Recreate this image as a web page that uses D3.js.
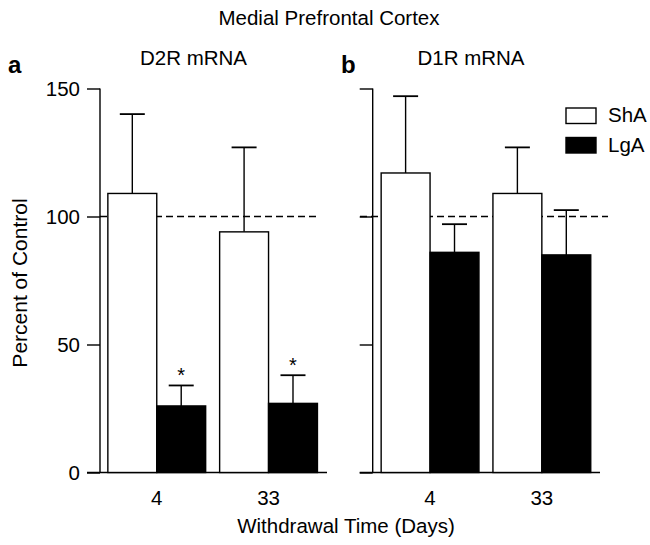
<!DOCTYPE html>
<html>
<head>
<meta charset="utf-8">
<script src="https://cdn.jsdelivr.net/npm/d3@7"></script>
<style>
  body { margin: 0; background: #fff; }
  svg text { font-family: "Liberation Sans", Arial, sans-serif; fill: #000; }
</style>
</head>
<body>
<div id="chart"></div>
<script>
var w = 650,
    h = 545;

// data
var days = ["4", "33"];
var groups = ["ShA", "LgA"];
var d2rMean = [[109, 26], [94, 27]];   // [day][group]
var d2rErr  = [[140, 34], [127, 38]];
var d1rMean = [[117, 86], [109, 85]];
var d1rErr  = [[147, 97], [127, 102.5]];
var d2rStars = [[false, true], [false, true]];
var d1rStars = [[false, false], [false, false]];
var yTicks = [0, 50, 100, 150];

var svg = d3.select("#chart")
    .append("svg")
    .attr("width", w)
    .attr("height", h);

var y = d3.scaleLinear().domain([0, 150]).range([472.5, 88.5]);

svg.append("text")
   .attr("x", 329).attr("y", 25)
   .attr("text-anchor", "middle")
   .style("font-size", "20.5px")
   .text("Medial Prefrontal Cortex");

svg.append("text")
   .attr("x", 346).attr("y", 533)
   .attr("text-anchor", "middle")
   .style("font-size", "20.5px")
   .text("Withdrawal Time (Days)");

svg.append("text")
   .attr("transform", "translate(27,283) rotate(-90)")
   .attr("text-anchor", "middle")
   .style("font-size", "21px")
   .text("Percent of Control");

function panel(opts) {
    var g = svg.append("g");
    var x0 = d3.scaleBand().domain(days)
        .range([opts.left, opts.right]).paddingInner(0.125).paddingOuter(0.03);
    var x1 = d3.scaleBand().domain(groups).range([0, x0.bandwidth()]);

    // y axis
    var ax = d3.axisLeft(y).tickValues(yTicks).tickSize(13)
        .tickFormat(opts.labels ? d3.format("d") : "");
    var ag = g.append("g").attr("transform", "translate(" + opts.axisX + ",0)").call(ax);
    ag.select(".domain").remove();
    ag.append("line").attr("x1", 0).attr("x2", 0)
      .attr("y1", y(0)).attr("y2", y(150)).attr("stroke", "#000").attr("stroke-width", 1.4);
    ag.selectAll(".tick line").attr("stroke-width", 1.4);
    ag.selectAll(".tick text").style("font-size", "20.5px").attr("x", -20).attr("dy", "0.36em")
      .style("font-family", "Liberation Sans, Arial, sans-serif");

    // baseline
    g.append("line")
     .attr("x1", opts.axisX - 13).attr("x2", opts.baseEnd)
     .attr("y1", y(0)).attr("y2", y(0))
     .attr("stroke", "#000").attr("stroke-width", 1.4);

    // dashed 100% reference
    g.append("line")
     .attr("x1", opts.dashStart).attr("x2", opts.dashEnd)
     .attr("y1", y(100)).attr("y2", y(100))
     .attr("stroke", "#000").attr("stroke-width", 1.3)
     .attr("stroke-dasharray", "7,4");

    var rows = [];
    days.forEach(function(d, i) {
        groups.forEach(function(gr, j) {
            rows.push({day: d, group: gr, mean: opts.mean[i][j], err: opts.err[i][j], star: opts.stars[i][j]});
        });
    });

    var cx = function(d) { return x0(d.day) + x1(d.group) + x1.bandwidth() / 2; };

    // error bars
    g.selectAll(".eb").data(rows).enter().append("line")
     .attr("x1", cx).attr("x2", cx)
     .attr("y1", function(d) { return y(d.mean); })
     .attr("y2", function(d) { return y(d.err); })
     .attr("stroke", "#000").attr("stroke-width", 1.4);
    g.selectAll(".cap").data(rows).enter().append("line")
     .attr("x1", function(d) { return cx(d) - 12.5; })
     .attr("x2", function(d) { return cx(d) + 12.5; })
     .attr("y1", function(d) { return y(d.err); })
     .attr("y2", function(d) { return y(d.err); })
     .attr("stroke", "#000").attr("stroke-width", 1.8);

    // bars
    g.selectAll(".bar").data(rows).enter().append("rect")
     .attr("x", function(d) { return x0(d.day) + x1(d.group); })
     .attr("width", x1.bandwidth())
     .attr("y", function(d) { return y(d.mean); })
     .attr("height", function(d) { return y(0) - y(d.mean); })
     .attr("fill", function(d) { return d.group === "ShA" ? "#fff" : "#000"; })
     .attr("stroke", "#000").attr("stroke-width", 1.4);

    // significance stars
    g.selectAll(".star").data(rows.filter(function(d) { return d.star; })).enter().append("text")
     .attr("x", cx)
     .attr("y", function(d) { return y(d.err) - 3; })
     .attr("text-anchor", "middle")
     .style("font-size", "20px")
     .text("*");

    // x labels
    g.selectAll(".xl").data(days).enter().append("text")
     .attr("x", function(d) { return x0(d) + x0.bandwidth() / 2; })
     .attr("y", 505)
     .attr("text-anchor", "middle")
     .style("font-size", "20.5px")
     .text(function(d) { return d; });

    // panel letter and title
    g.append("text").attr("x", opts.letterX).attr("y", 72.5)
     .style("font-size", "24px").style("font-weight", "bold").text(opts.letter);
    g.append("text").attr("x", opts.titleX).attr("y", 65)
     .attr("text-anchor", "middle").style("font-size", "20.5px").text(opts.title);
}

panel({left: 104.5, right: 320.8, axisX: 100, baseEnd: 327, dashStart: 100, dashEnd: 318, labels: true,
       mean: d2rMean, err: d2rErr, stars: d2rStars,
       letter: "a", letterX: 8, title: "D2R mRNA", titleX: 193.5});
panel({left: 377.8, right: 594.1, axisX: 372.7, baseEnd: 600, dashStart: 360, dashEnd: 608, labels: false,
       mean: d1rMean, err: d1rErr, stars: d1rStars,
       letter: "b", letterX: 341, title: "D1R mRNA", titleX: 471});

// legend
var leg = svg.append("g").attr("transform", "translate(566,108)");
leg.selectAll("rect").data(groups).enter().append("rect")
   .attr("x", 0).attr("y", function(d, i) { return i * 29.5; })
   .attr("width", 30).attr("height", 15.5)
   .attr("fill", function(d) { return d === "ShA" ? "#fff" : "#000"; })
   .attr("stroke", "#000").attr("stroke-width", 1.4);
leg.selectAll("text").data(groups).enter().append("text")
   .attr("x", 42).attr("y", function(d, i) { return i * 30 + 14; })
   .style("font-size", "20.5px")
   .text(function(d) { return d; });
</script>
</body>
</html>
